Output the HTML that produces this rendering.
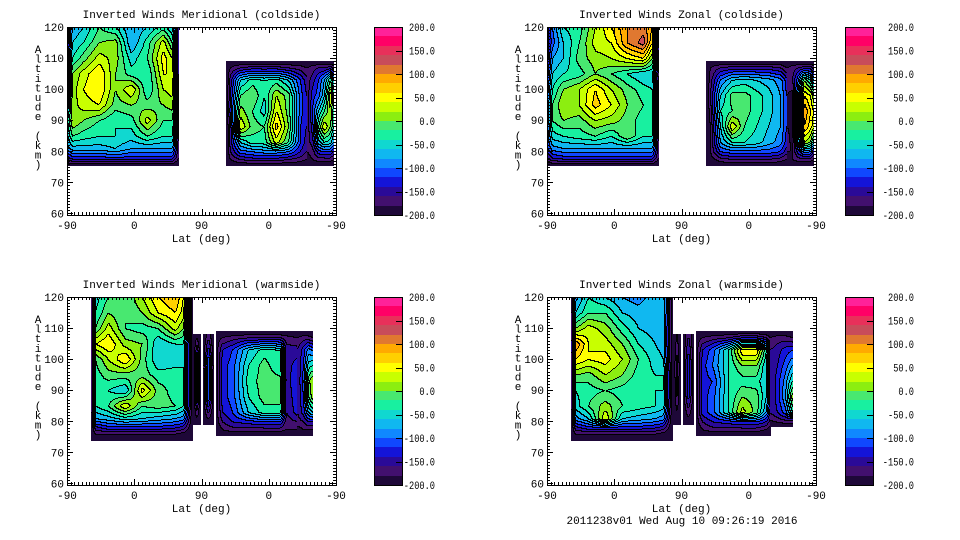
<!DOCTYPE html>
<html><head><meta charset="utf-8"><style>
html,body{margin:0;padding:0;background:#fff;width:960px;height:540px;overflow:hidden}
svg text{font-family:"Liberation Mono",monospace;font-size:11px;fill:#000}
svg text.cbl{font-size:11px}
</style></head><body>
<svg id="chart" width="960" height="540" viewBox="0 0 960 540" xmlns="http://www.w3.org/2000/svg" shape-rendering="crispEdges"></svg>
<script>
// ---- data ----
const panelTitles = ["Inverted Winds Meridional (coldside)","Inverted Winds Zonal (coldside)","Inverted Winds Meridional (warmside)","Inverted Winds Zonal (warmside)"];
const xTickLabels = ["-90","0","90","0","-90"];
const xTickPos = [0,90,180,270,360];
const yTickLabels = [60,70,80,90,100,110,120];
const cbarLabels = ["200.0","150.0","100.0","50.0","0.0","-50.0","-100.0","-150.0","-200.0"];
const cbarValues = [200,150,100,50,0,-50,-100,-150,-200];
const bandColors = ["#1e0838","#42106e","#2a0a98","#1414d8","#1048ff","#1088ff","#10b8f0","#10d8d0","#18f0a0","#48e870","#8cee10","#c8ff00","#ffff00","#ffd000","#ffaa00","#e07830","#c84c5a","#e8305a","#ff0066","#ff2299"];
const footer = "2011238v01 Wed Aug 10 09:26:19 2016";

// grid coordinates: along-track degrees (0..360) and altitude (km)
const colsA = [0,6.7,21.4,42.8,64.2,85.7,107,128.5,140.5,148.6];
const rowsA = [120,115,110,105,100,95,90,85,81,78,75.5];
const colsB = [212.8,218.1,231.5,247.6,263.6,279.7,295.8,311.8,319.9];
const rowsB = [109,107,103,98,93,88,83,80,77.5,75.5];
const colsC = [321.2,327.9,335.9,343.9,352,356];
const colsWA = [32,37.5,54.9,77.6,100.4,121.8,144.5,155.2,167.3];
const rowsWA = [120,115,110,105,100,95,90,85,81,78,76,74];
const colsN1 = [168.6,173.3,178];
const colsN2 = [182,188.7,195.4];
const rowsN = [108,98,88,79];
const colsWC = [199.4,207.4,220.8,242.2,263.6,285,293,307.8];
const colsWD = [307.8,315.8,322.5,327.9];
const colsZC = [199.4,207.4,220.8,242.2,261,279.7,293,298.4];
const colsZD = [298.4,307.8,318.5,327.9];
const rowsZD = [109,107,103,98,93,88,83,80.5,78.5];

const tlBlocks = [
 {xs:colsA,as:rowsA,v:[
  [-150,-80,-60,-20,-40,-80,-60,-30,-60,-160],
  [-150,-60,-40,0,10,-80,-30,30,-20,-160],
  [-140,-40,-10,30,10,-50,-20,50,20,-160],
  [-120,0,30,60,0,-30,-40,40,40,-160],
  [-100,10,40,60,0,40,-40,20,30,-170],
  [-80,10,30,40,-10,0,-10,0,10,-170],
  [-40,20,0,-20,-40,-30,30,-20,-20,-170],
  [-60,-20,-30,-40,-40,-50,-20,-40,-40,-170],
  [-90,-70,-70,-70,-60,-80,-80,-80,-80,-170],
  [-150,-130,-130,-130,-120,-130,-130,-130,-130,-180],
  [-200,-200,-200,-200,-200,-200,-200,-200,-200,-200]]},
 {xs:colsB,as:rowsB,v:[
  [-200,-200,-200,-200,-200,-200,-200,-200,-200],
  [-200,-180,-160,-150,-150,-150,-160,-170,-180],
  [-200,-150,-60,-30,-40,-30,-60,-120,-150],
  [-200,-140,-20,0,-40,20,-10,-110,-140],
  [-200,-130,10,-20,-50,40,-10,-110,-140],
  [-200,-150,40,-10,-20,70,0,-120,-140],
  [-200,-150,-60,-30,-30,30,-20,-120,-150],
  [-200,-160,-110,-100,-90,-90,-100,-140,-160],
  [-200,-180,-160,-150,-150,-150,-160,-170,-180],
  [-200,-200,-200,-200,-200,-200,-200,-200,-200]]},
 {xs:colsC,as:rowsB,v:[
  [-200,-200,-200,-200,-200,-200],
  [-180,-170,-160,-160,-150,-170],
  [-170,-150,-120,-80,-20,-60],
  [-170,-130,-110,-60,40,-20],
  [-170,-120,-60,-20,20,-30],
  [-170,-130,-20,40,0,-40],
  [-170,-150,-70,-40,-50,-80],
  [-180,-170,-130,-120,-120,-140],
  [-190,-180,-170,-170,-170,-180],
  [-200,-200,-200,-200,-200,-200]]}
];
const trBlocks = [
 {xs:colsA,as:rowsA,v:[
  [-150,-100,-40,-30,20,60,100,110,80,-150],
  [-150,-110,-60,-20,30,40,100,130,60,-150],
  [-150,-80,-60,-10,10,20,40,60,0,-170],
  [-130,-60,-40,-30,0,-20,-40,-60,-60,-170],
  [-110,-40,0,20,60,20,-10,-30,-40,-170],
  [-100,-20,20,20,70,40,0,-20,-30,-170],
  [-100,-20,0,-10,20,10,-10,-30,-30,-170],
  [-110,-50,-40,-30,-20,-40,0,-40,-40,-170],
  [-120,-90,-80,-80,-80,-80,-80,-80,-80,-170],
  [-160,-140,-130,-130,-130,-130,-130,-130,-130,-180],
  [-200,-200,-200,-200,-200,-200,-200,-200,-200,-200]]},
 {xs:colsB,as:rowsB,v:[
  [-200,-200,-200,-200,-200,-200,-200,-200,-200],
  [-200,-180,-160,-150,-150,-150,-150,-160,-180],
  [-200,-170,-100,-60,-50,-60,-70,-90,-130],
  [-200,-160,-60,-10,-10,-30,-50,-80,-120],
  [-200,-170,-40,-20,-10,-30,-50,-80,-120],
  [-200,-180,-60,40,-20,-40,-60,-80,-120],
  [-200,-180,-80,-40,-40,-50,-70,-90,-130],
  [-200,-180,-120,-110,-110,-110,-110,-120,-150],
  [-200,-190,-170,-160,-160,-160,-160,-170,-180],
  [-200,-200,-200,-200,-200,-200,-200,-200,-200]]},
 {xs:colsC,as:rowsB,v:[
  [-200,-200,-200,-200,-200,-200],
  [-180,-170,-160,-150,-150,-170],
  [-170,-160,-100,0,-40,-80],
  [-180,-190,-60,60,40,10],
  [-180,-190,-50,100,60,40],
  [-180,-190,-60,80,50,30],
  [-170,-190,-70,20,0,-50],
  [-180,-180,-130,-90,-100,-140],
  [-190,-180,-170,-170,-170,-180],
  [-200,-200,-200,-200,-200,-200]]}
];
const blBlocks = [
 {xs:colsWA,as:rowsWA,v:[
  [-200,-50,-20,-20,20,60,80,40,-200],
  [-200,-40,0,-20,0,40,60,30,-200],
  [-200,-20,30,-20,-30,-20,30,0,-200],
  [-200,40,60,10,0,-60,-40,-40,-200],
  [-200,-20,20,60,-10,-60,-50,-40,-200],
  [-200,-30,-10,-10,-10,-30,-30,-40,-200],
  [-200,-20,-40,-60,50,-10,-30,-40,-200],
  [-200,-40,-20,40,-20,-10,-20,-40,-200],
  [-200,-80,-70,-50,-60,-70,-80,-90,-200],
  [-200,-150,-130,-130,-130,-130,-140,-150,-200],
  [-200,-180,-180,-180,-180,-180,-180,-190,-200],
  [-200,-200,-200,-200,-200,-200,-200,-200,-200]]},
 {xs:colsN1,as:rowsN,v:[[-200,-190,-200],[-200,-100,-200],[-200,-120,-200],[-200,-200,-200]]},
 {xs:colsN2,as:rowsN,v:[[-200,-170,-200],[-190,-90,-190],[-190,-100,-190],[-200,-200,-200]]},
 {xs:colsWC,as:rowsB,v:[
  [-200,-200,-200,-200,-200,-200,-200,-200],
  [-190,-180,-170,-160,-160,-160,-170,-180],
  [-190,-140,-120,-60,-30,-40,-150,-150],
  [-190,-130,-110,-40,-10,-40,-150,-130],
  [-190,-130,-110,-30,-10,-10,-150,-120],
  [-190,-130,-110,-40,-10,-10,-160,-120],
  [-190,-140,-120,-60,-30,-30,-160,-130],
  [-190,-160,-140,-130,-120,-120,-170,-160],
  [-200,-180,-170,-170,-170,-170,-180,-180],
  [-200,-200,-200,-200,-200,-200,-200,-200]]},
 {xs:colsWD,as:rowsB,v:[
  [-200,-200,-200,-200],
  [-180,-170,-170,-180],
  [-160,-130,-90,-100],
  [-160,-120,-50,-40],
  [-160,-110,-10,20],
  [-160,-120,-20,10],
  [-160,-130,-80,-60],
  [-170,-160,-140,-140],
  [-190,-180,-180,-180],
  [-200,-200,-200,-200]]}
];
const brBlocks = [
 {xs:colsWA,as:rowsWA,v:[
  [-200,-90,-40,-60,-80,-90,-70,-60,-200],
  [-200,-60,-20,-20,-60,-70,-60,-60,-200],
  [-200,0,30,10,-30,-60,-70,-70,-200],
  [-200,100,40,30,0,-40,-60,-70,-200],
  [-200,60,40,50,20,-20,-50,-60,-200],
  [-200,0,-10,20,0,-30,-40,-40,-200],
  [-200,-40,-30,-20,-30,-40,-40,-40,-200],
  [-200,-50,-20,10,-20,-30,-40,-50,-200],
  [-200,-90,-60,40,-60,-70,-80,-90,-200],
  [-200,-150,-130,-130,-130,-130,-140,-150,-200],
  [-200,-180,-180,-180,-180,-180,-180,-190,-200],
  [-200,-200,-200,-200,-200,-200,-200,-200,-200]]},
 {xs:colsN1,as:rowsN,v:[[-200,-180,-200],[-200,-150,-200],[-200,-160,-200],[-200,-200,-200]]},
 {xs:colsN2,as:rowsN,v:[[-200,-160,-200],[-190,-120,-190],[-190,-130,-190],[-200,-200,-200]]},
 {xs:colsZC,as:rowsB,v:[
  [-200,-200,-200,-200,-200,-200,-200,-200],
  [-190,-180,-170,-160,-140,-140,-160,-180],
  [-190,-140,-110,-40,60,60,-40,-150],
  [-190,-130,-100,-40,0,0,-60,-140],
  [-190,-130,-120,-40,-30,-30,-60,-140],
  [-190,-130,-110,-40,0,-10,-60,-140],
  [-190,-130,-110,-40,30,-10,-80,-150],
  [-190,-160,-140,-130,-120,-120,-140,-170],
  [-200,-180,-170,-170,-170,-170,-180,-190],
  [-200,-200,-200,-200,-200,-200,-200,-200]]},
 {xs:colsZD,as:rowsZD,v:[
  [-200,-200,-200,-200],
  [-180,-170,-170,-180],
  [-160,-150,-130,-120],
  [-160,-140,-110,-80],
  [-160,-130,-90,-40],
  [-160,-130,-80,10],
  [-160,-140,-110,-40],
  [-180,-170,-160,-160],
  [-200,-200,-200,-200]]}
];
const panelBlocks = [tlBlocks,trBlocks,blBlocks,brBlocks];

// ---- rendering ----
const NS="http://www.w3.org/2000/svg";
const svg=document.getElementById('chart');
function mk(tag,attrs,parent){const e=document.createElementNS(NS,tag);for(const k in attrs)e.setAttribute(k,attrs[k]);(parent||svg).appendChild(e);return e;}
function band(v){return Math.max(0,Math.min(19,Math.floor((v+200)/20)));}
function seg(arr,t){
  const n=arr.length;
  for(let k=0;k<n-1;k++){
    const a=arr[k],b=arr[k+1];
    if((t>=Math.min(a,b)&&t<=Math.max(a,b))||k===n-2){return [k,Math.max(0,Math.min(1,(t-a)/(b-a)))];}
  }
  return [0,0];
}

const panels=[{ox:0,oy:0,cbx:374},{ox:480,oy:0,cbx:845},{ox:0,oy:270,cbx:374},{ox:480,oy:270,cbx:845}];

panels.forEach((p,pi)=>{
  const g=mk('g',{});
  
  
  const L=p.ox+67,R=p.ox+336,T=p.oy+27,B=p.oy+215;
  const xs=d=>L+d*(R-L)/360;
  const ys=a=>T+(120-a)*(B-T)/60.5;
  const xinv=px=>(px-L)*360/(R-L);
  const yinv=py=>120-(py-T)*60.5/(B-T);
  panelBlocks[pi].forEach(bl=>{
    const X0=Math.round(xs(bl.xs[0])),X1=Math.round(xs(bl.xs[bl.xs.length-1]));
    const Y0=Math.round(ys(bl.as[0])),Y1=Math.round(ys(bl.as[bl.as.length-1]));
    const W=X1-X0+1,H=Y1-Y0+1;
    const grid=[];
    for(let j=0;j<H;j++){
      const r=[];const [r0,fr]=seg(bl.as,yinv(Y0+j+0.5));
      for(let i=0;i<W;i++){
        const [c0,fc]=seg(bl.xs,xinv(X0+i+0.5));
        const v=bl.v[r0][c0]*(1-fr)*(1-fc)+bl.v[r0][c0+1]*(1-fr)*fc+bl.v[r0+1][c0]*fr*(1-fc)+bl.v[r0+1][c0+1]*fr*fc;
        r.push(band(v));
      }
      grid.push(r);
    }
    const d=bandColors.map(()=>'');let dk='';
    for(let j=0;j<H;j++){
      let s=0;
      for(let i=1;i<=W;i++){
        if(i===W||grid[j][i]!==grid[j][s]){d[grid[j][s]]+=`M${X0+s} ${Y0+j}h${i-s}v1h${-(i-s)}z`;s=i;}
      }
      let bs=-1;
      for(let i=0;i<=W;i++){
        const blk=i<W&&((i>0&&grid[j][i]!==grid[j][i-1])||(j>0&&grid[j][i]!==grid[j-1][i]));
        if(blk&&bs<0)bs=i;
        if(!blk&&bs>=0){dk+=`M${X0+bs} ${Y0+j}h${i-bs}v1h${-(i-bs)}z`;bs=-1;}
      }
    }
    d.forEach((pd,k)=>{if(!pd)return;
      const e=mk('path',{d:pd,fill:bandColors[k]},g);
      
      
    });
    const c=mk('path',{d:dk,fill:'#000'},g);
    
    
  });
  const fr=mk('rect',{x:L+0.5,y:T+0.5,width:R-L,height:B-T,fill:'none',stroke:'#000','stroke-width':1},g);
  
  
  let tk='';
  for(let dd=0;dd<=360;dd+=5){const x=Math.round(xs(dd))+0.5;const len=dd%90===0?6:3;tk+=`M${x} ${B}v${-len}M${x} ${T}v${len}`;}
  for(let a=60;a<=120;a+=1){const y=Math.round(ys(a))+0.5;const len=a%10===0?6:3;tk+=`M${L} ${y}h${len}M${R} ${y}h${-len}`;}
  const tp=mk('path',{d:tk,stroke:'#000','stroke-width':1,fill:'none'},g);
  
  
  xTickLabels.forEach((t,k)=>{const e=mk('text',{x:xs(xTickPos[k]),y:B+14,'text-anchor':'middle'},g);e.textContent=t;
    });
  yTickLabels.forEach(a=>{const e=mk('text',{x:L-3,y:ys(a)+4,'text-anchor':'end'},g);e.textContent=a;
    });
  const tt=mk('text',{x:(L+R)/2,y:p.oy+18,'text-anchor':'middle'},g);tt.textContent=panelTitles[pi];
  
  const xl=mk('text',{x:(L+R)/2,y:B+27,'text-anchor':'middle'},g);xl.textContent='Lat (deg)';
  
  const yl=mk('text',{x:p.ox+38,y:0,'text-anchor':'middle'},g);
  
  'Altitude (km)'.split('').forEach((ch,k)=>{const s=mk('tspan',{x:p.ox+38,y:p.oy+53+k*9.6},yl);s.textContent=ch;});
  const cb=mk('g',{},g);
  
  const cT=p.oy+27,cB=p.oy+215,cx=p.cbx,cw=28;
  const cy=v=>cB-(v+200)/400*(cB-cT);
  bandColors.forEach((col,k)=>{const y1=Math.round(cy(-200+k*20+20)),y0=Math.round(cy(-200+k*20));
    const r=mk('rect',{x:cx,y:y1,width:cw,height:y0-y1,fill:col},cb);
    });
  mk('rect',{x:cx+0.5,y:cT+0.5,width:cw,height:cB-cT,fill:'none',stroke:'#000'},cb);
  cbarValues.forEach((v,k)=>{const y=Math.round(cy(v))+0.5;
    mk('path',{d:`M${cx+cw-6} ${y}h6`,stroke:'#000'},cb);
    const lab=cbarLabels[k];
    const e=mk('text',{x:cx+(pi%2?69:61),y:cy(v)+4,'text-anchor':'end','class':'cbl',textLength:(lab.length*5.2).toFixed(1),lengthAdjust:'spacingAndGlyphs'},cb);e.textContent=lab;
    });
});
const ft=mk('text',{x:682,y:524,'text-anchor':'middle'});ft.textContent=footer;


</script>
</body></html>
